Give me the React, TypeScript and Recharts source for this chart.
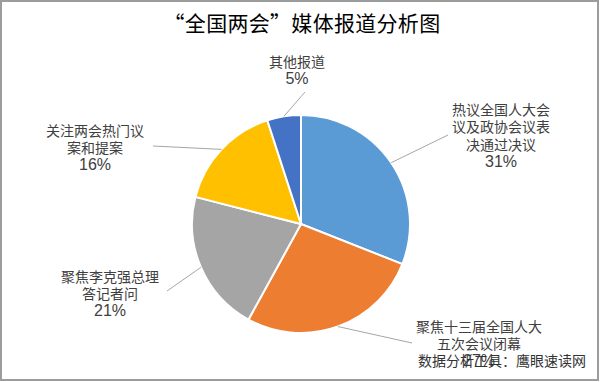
import React from "react";
import { PieChart, Pie, Cell } from "recharts";

const title = "“全国两会”媒体报道分析图";
const watermark = "数据分析工具：鹰眼速读网";

const categories = [
  "热议全国人大会\n议及政协会议表\n决通过决议",
  "聚焦十三届全国人大\n五次会议闭幕",
  "聚焦李克强总理\n答记者问",
  "关注两会热门议\n案和提案",
  "其他报道",
];
const values = [31, 27, 21, 16, 5];
const colors = ["#5B9BD5", "#ED7D31", "#A5A5A5", "#FFC000", "#4472C4"];

// label placement relative to pie centre: text block centre and leader-line end
const labelText = [
  [200, -89],
  [178, 119],
  [-191, 69],
  [-206, -77],
  [-4, -154],
];
const labelElbow = [
  [147, -89],
  [111, 119],
  [-134, 67],
  [-148, -78],
  [4, -132],
];

const data = categories.map((c, i) => ({ name: c, value: values[i] }));

const RAD = Math.PI / 180;
const CJK = '"Noto Sans CJK SC", "Noto Sans", sans-serif';

const renderLabel = (props: any) => {
  const { cx, cy, midAngle, outerRadius, index, value } = props;
  const ex = cx + outerRadius * Math.cos(-midAngle * RAD);
  const ey = cy + outerRadius * Math.sin(-midAngle * RAD);
  const [ox, oy] = labelElbow[index];
  const [tx, ty] = labelText[index];
  const lines = categories[index].split("\n");
  const all = [...lines, `${value}%`];
  const lh = 17.5;
  const n = all.length;
  return (
    <g key={`lab-${index}`}>
      <line x1={ex} y1={ey} x2={cx + ox} y2={cy + oy} stroke="#A6A6A6" strokeWidth={1} />
      <text textAnchor="middle" fill="#404040" fontSize={14}>
        {all.map((l, i) => (
          <tspan
            key={i}
            x={cx + tx}
            y={cy + ty + (i - (n - 1) / 2) * lh}
            dominantBaseline="central"
            fontFamily={i === n - 1 ? '"Liberation Sans", Arial, sans-serif' : CJK}
            fontSize={i === n - 1 ? 16 : 14}
          >
            {l}
          </tspan>
        ))}
      </text>
    </g>
  );
};

export default function App() {
  return (
    <div style={{ position: "absolute", left: 0, top: 0, width: 600, height: 382, background: "#fff" }}>
      <PieChart width={600} height={382}>
        <Pie
          data={data}
          dataKey="value"
          nameKey="name"
          cx={296}
          cy={219}
          outerRadius={109}
          startAngle={90}
          endAngle={-270}
          stroke="#ffffff"
          strokeWidth={2}
          label={renderLabel}
          labelLine={false}
          isAnimationActive={false}
        >
          {data.map((d, i) => (
            <Cell key={i} fill={colors[i]} />
          ))}
        </Pie>
      </PieChart>
      <div
        style={{
          position: "absolute",
          left: 0,
          top: 7,
          width: 604,
          textAlign: "center",
          fontFamily: CJK,
          fontSize: 21,
          color: "#000",
          lineHeight: "30px",
          letterSpacing: 0.3,
        }}
      >
        {title}
      </div>
      <div
        style={{
          position: "absolute",
          left: 418,
          top: 350,
          fontFamily: CJK,
          fontSize: 14,
          color: "#333",
          lineHeight: "20px",
          whiteSpace: "nowrap",
        }}
      >
        {watermark}
      </div>
      <div
        style={{
          position: "absolute",
          left: 0,
          top: 0,
          width: 599,
          height: 381,
          boxSizing: "border-box",
          border: "2px solid #9c9c9c",
          pointerEvents: "none",
        }}
      />
    </div>
  );
}
